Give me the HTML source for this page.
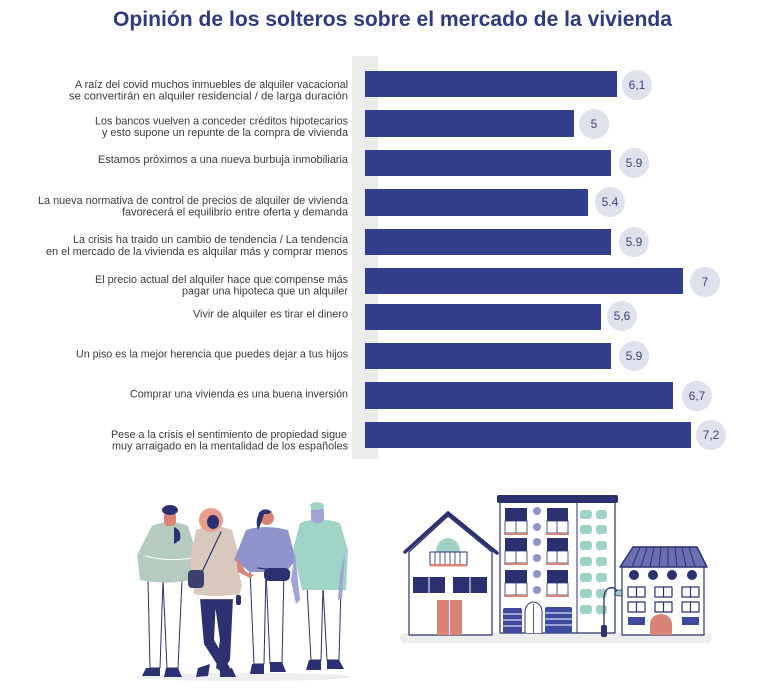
<!DOCTYPE html>
<html>
<head>
<meta charset="utf-8">
<style>
  html,body{margin:0;padding:0;background:#ffffff;}
  body{width:768px;height:697px;overflow:hidden;}
  svg{display:block;}
  .lbl{font-family:"Liberation Sans",sans-serif;font-size:11px;fill:#3a3a3a;}
  .val{font-family:"Liberation Sans",sans-serif;font-size:12px;fill:#3f4578;}
</style>
</head>
<body>
<svg width="768" height="697" viewBox="0 0 768 697" xmlns="http://www.w3.org/2000/svg">
  <rect x="0" y="0" width="768" height="697" fill="#ffffff"/>
  <!-- Title -->
  <text x="113" y="26" textLength="559" lengthAdjust="spacingAndGlyphs" font-family="Liberation Sans, sans-serif" font-weight="bold" font-size="21" fill="#2f3a80">Opinión de los solteros sobre el mercado de la vivienda</text>

  <!-- grey axis strip -->
  <rect x="352" y="56" width="26" height="403" fill="#ebebeb"/>

  <!-- bars -->
  <g fill="#333f8c">
    <rect x="365" y="71" width="252" height="26"/>
    <rect x="365" y="110" width="209" height="27"/>
    <rect x="365" y="150" width="246" height="26"/>
    <rect x="365" y="189" width="223" height="27"/>
    <rect x="365" y="229" width="246" height="26"/>
    <rect x="365" y="268" width="318" height="26"/>
    <rect x="365" y="304" width="236" height="26"/>
    <rect x="365" y="343" width="246" height="26"/>
    <rect x="365" y="382" width="308" height="27"/>
    <rect x="365" y="422" width="326" height="26"/>
  </g>

  <!-- value circles -->
  <g fill="#dfe1ec">
    <circle cx="637" cy="85" r="15"/>
    <circle cx="594" cy="124" r="15"/>
    <circle cx="634" cy="163" r="15"/>
    <circle cx="610" cy="202" r="15"/>
    <circle cx="634" cy="242" r="15"/>
    <circle cx="705" cy="282" r="15"/>
    <circle cx="622" cy="316" r="15"/>
    <circle cx="634" cy="356" r="15"/>
    <circle cx="697" cy="396" r="15"/>
    <circle cx="711" cy="435" r="15"/>
  </g>
  <g class="val" text-anchor="middle">
    <text x="637" y="89">6,1</text>
    <text x="594" y="128">5</text>
    <text x="634" y="167">5.9</text>
    <text x="610" y="206">5.4</text>
    <text x="634" y="246">5.9</text>
    <text x="705" y="286">7</text>
    <text x="622" y="320">5,6</text>
    <text x="634" y="360">5.9</text>
    <text x="697" y="400">6,7</text>
    <text x="711" y="439">7,2</text>
  </g>

  <!-- labels -->
  <g class="lbl">
    <text x="75" y="88" textLength="273" lengthAdjust="spacingAndGlyphs">A raíz del covid muchos inmuebles de alquiler vacacional</text>
    <text x="69" y="99.5" textLength="279" lengthAdjust="spacingAndGlyphs">se convertirán en alquiler residencial / de larga duración</text>
    <text x="95" y="124.5" textLength="253" lengthAdjust="spacingAndGlyphs">Los bancos vuelven a conceder créditos hipotecarios</text>
    <text x="102" y="136" textLength="246" lengthAdjust="spacingAndGlyphs">y esto supone un repunte de la compra de vivienda</text>
    <text x="98" y="163" textLength="250" lengthAdjust="spacingAndGlyphs">Estamos próximos a una nueva burbuja inmobiliaria</text>
    <text x="38" y="204" textLength="310" lengthAdjust="spacingAndGlyphs">La nueva normativa de control de precios de alquiler de vivienda</text>
    <text x="122" y="215.5" textLength="226" lengthAdjust="spacingAndGlyphs">favorecerá el equilibrio entre oferta y demanda</text>
    <text x="73" y="243" textLength="275" lengthAdjust="spacingAndGlyphs">La crisis ha traido un cambio de tendencia / La tendencia</text>
    <text x="46" y="255" textLength="302" lengthAdjust="spacingAndGlyphs">en el mercado de la vivienda es alquilar más y comprar menos</text>
    <text x="95" y="283" textLength="253" lengthAdjust="spacingAndGlyphs">El precio actual del alquiler hace que compense más</text>
    <text x="182" y="294.5" textLength="166" lengthAdjust="spacingAndGlyphs">pagar una hipoteca que un alquiler</text>
    <text x="193" y="317.5" textLength="155" lengthAdjust="spacingAndGlyphs">Vivir de alquiler es tirar el dinero</text>
    <text x="76" y="357.5" textLength="272" lengthAdjust="spacingAndGlyphs">Un piso es la mejor herencia que puedes dejar a tus hijos</text>
    <text x="130" y="397.5" textLength="218" lengthAdjust="spacingAndGlyphs">Comprar una vivienda es una buena inversión</text>
    <text x="111" y="438" textLength="236" lengthAdjust="spacingAndGlyphs">Pese a la crisis el sentimiento de propiedad sigue</text>
    <text x="112" y="449.5" textLength="236" lengthAdjust="spacingAndGlyphs">muy arraigado en la mentalidad de los españoles</text>
  </g>

  <!-- ================= PEOPLE ================= -->
  <g stroke-linejoin="round" stroke-linecap="round">
    <ellipse cx="243" cy="677" rx="108" ry="4" fill="#eeeeee"/>

    <!-- Figure 1: sage sweater man -->
    <path d="M148,580 L163,580 L160,668 L150,668 Z" fill="#ffffff" stroke="#2b3170" stroke-width="1"/>
    <path d="M163,580 L182,580 L178,668 L167,668 Z" fill="#ffffff" stroke="#2b3170" stroke-width="1"/>
    <path d="M146,668 L160,668 L160,676 L142,676 Z" fill="#2b3170"/>
    <path d="M166,668 L178,668 L182,677 L164,677 Z" fill="#2b3170"/>
    <path d="M152,526 Q170,518 188,526 L196,552 L192,580 Q165,585 140,580 L137,555 Z" fill="#b6cbbf"/>
    <path d="M146,556 Q165,562 192,558" stroke="#ffffff" stroke-width="1" fill="none"/>
    <rect x="164" y="512" width="12" height="14" rx="4" fill="#d98476"/>
    <ellipse cx="170" cy="510" rx="8" ry="5" fill="#2b3170"/>
    <path d="M174,527 Q182,530 180,540 L174,544 Z" fill="#2b3170"/>

    <!-- Figure 2: beige sweater woman -->
    <path d="M200,598 L216,598 L214,640 L230,668 L222,672 L204,644 Z" fill="#2b3170"/>
    <path d="M214,598 L233,598 L230,660 L222,672 L216,668 L220,640 Z" fill="#2b3170"/>
    <path d="M198,668 L210,664 L208,676 L196,677 Z" fill="#2b3170"/>
    <path d="M220,670 L232,668 L236,677 L220,677 Z" fill="#2b3170"/>
    <rect x="198" y="590" width="36" height="9" fill="#ffffff" stroke="#cfcfcf" stroke-width="0.5"/>
    <path d="M196,530 Q214,523 232,530 L240,560 L238,594 Q216,598 194,594 L190,560 Z" fill="#d9c8be"/>
    <path d="M232,545 L242,585 L238,600 L234,592 Z" fill="#d9c8be"/>
    <circle cx="211" cy="520" r="12" fill="#e79d8c"/>
    <ellipse cx="213" cy="522" rx="6" ry="7" fill="#2b3170"/>
    <line x1="221" y1="532" x2="202" y2="572" stroke="#2b3170" stroke-width="1.2"/>
    <rect x="188" y="570" width="16" height="18" rx="4" fill="#3a3f6e"/>
    <rect x="236" y="595" width="5" height="10" rx="2" fill="#2b3170"/>

    <!-- Figure 3: lavender top woman -->
    <path d="M250,570 L266,570 L264,664 L254,664 Z" fill="#ffffff" stroke="#2b3170" stroke-width="1"/>
    <path d="M266,570 L284,570 L282,664 L270,664 Z" fill="#ffffff" stroke="#2b3170" stroke-width="1"/>
    <path d="M252,664 L264,664 L264,674 L250,674 Z" fill="#2b3170"/>
    <path d="M270,662 L282,662 L286,672 L270,672 Z" fill="#2b3170"/>
    <path d="M246,530 Q265,524 288,530 L296,560 L286,572 L250,572 L234,560 Z" fill="#8f94cc"/>
    <path d="M236,556 L246,572 L254,575 L250,578 L238,572 Z" fill="#d98476"/>
    <rect x="264" y="568" width="26" height="13" rx="5" fill="#2b3170"/>
    <line x1="258" y1="568" x2="290" y2="572" stroke="#2b3170" stroke-width="1.2"/>
    <circle cx="267" cy="518" r="7" fill="#d98476"/>
    <path d="M258,514 Q264,506 272,512 L268,514 Z" fill="#2b3170"/>
    <path d="M262,510 Q254,518 258,530 Q262,522 264,514 Z" fill="#2b3170"/>

    <!-- Figure 4: mint sweater man -->
    <path d="M307,586 L323,586 L321,660 L311,660 Z" fill="#ffffff" stroke="#2b3170" stroke-width="1"/>
    <path d="M323,586 L341,586 L339,660 L327,660 Z" fill="#ffffff" stroke="#2b3170" stroke-width="1"/>
    <path d="M309,660 L321,660 L321,670 L306,670 Z" fill="#2b3170"/>
    <path d="M327,660 L339,660 L344,669 L327,669 Z" fill="#2b3170"/>
    <path d="M300,523 Q318,516 340,523 L348,550 L346,590 L302,590 L293,550 Z" fill="#a0d4c7"/>
    <path d="M295,552 L300,600 L296,604 L291,580 Z" fill="#9fa3d8"/>
    <path d="M345,552 L342,598 L338,600 L340,575 Z" fill="#9fa3d8"/>
    <rect x="311" y="506" width="13" height="17" rx="5" fill="#9fa3d8"/>
    <ellipse cx="317" cy="506" rx="7" ry="4" fill="#a0d4c7"/>
  </g>

  <!-- ================= BUILDINGS ================= -->
  <g stroke-linejoin="round">
    <rect x="400" y="633" width="312" height="10" rx="5" fill="#ededed"/>

    <!-- Left house -->
    <path d="M409,552 L448,516 L492,552 L492,635 L409,635 Z" fill="#ffffff" stroke="#2b3170" stroke-width="1.2"/>
    <path d="M405,552 L448,513 L497,553" fill="none" stroke="#2b3170" stroke-width="3.5" stroke-linecap="round"/>
    <path d="M436,552 A12,14 0 0 1 460,552 Z" fill="#9fd3c7"/>
    <rect x="430" y="552" width="37" height="13" fill="#ffffff" stroke="#2b3170" stroke-width="1"/>
    <g stroke="#2b3170" stroke-width="0.8">
      <line x1="435" y1="552" x2="435" y2="565"/><line x1="440" y1="552" x2="440" y2="565"/>
      <line x1="445" y1="552" x2="445" y2="565"/><line x1="450" y1="552" x2="450" y2="565"/>
      <line x1="455" y1="552" x2="455" y2="565"/><line x1="460" y1="552" x2="460" y2="565"/>
    </g>
    <rect x="430" y="564" width="37" height="2.5" fill="#d98476"/>
    <rect x="413" y="577" width="32" height="16" fill="#2b3170"/>
    <rect x="453" y="577" width="34" height="16" fill="#2b3170"/>
    <line x1="429" y1="577" x2="429" y2="593" stroke="#ffffff" stroke-width="1"/>
    <line x1="470" y1="577" x2="470" y2="593" stroke="#ffffff" stroke-width="1"/>
    <rect x="437" y="600" width="25" height="35" fill="#d98476"/>
    <line x1="449.5" y1="600" x2="449.5" y2="635" stroke="#ffffff" stroke-width="1"/>

    <!-- Tall building -->
    <rect x="500" y="502" width="115" height="131" fill="#ffffff" stroke="#2b3170" stroke-width="1.2"/>
    <rect x="497" y="495" width="121" height="8" rx="2" fill="#2b3170"/>
    <line x1="577" y1="503" x2="577" y2="633" stroke="#2b3170" stroke-width="1"/>
    <g fill="#2b3170">
      <rect x="505" y="508" width="22" height="25"/><rect x="547" y="508" width="21" height="25"/>
      <rect x="505" y="538" width="22" height="25"/><rect x="547" y="538" width="21" height="25"/>
      <rect x="505" y="570" width="22" height="25"/><rect x="547" y="570" width="21" height="25"/>
    </g>
    <g fill="#ffffff">
      <rect x="505" y="521" width="22" height="12"/><rect x="547" y="521" width="21" height="12"/>
      <rect x="505" y="551" width="22" height="12"/><rect x="547" y="551" width="21" height="12"/>
      <rect x="505" y="583" width="22" height="12"/><rect x="547" y="583" width="21" height="12"/>
    </g>
    <g stroke="#2b3170" stroke-width="0.8" fill="none">
      <rect x="505" y="521" width="22" height="12"/><rect x="547" y="521" width="21" height="12"/>
      <rect x="505" y="551" width="22" height="12"/><rect x="547" y="551" width="21" height="12"/>
      <rect x="505" y="583" width="22" height="12"/><rect x="547" y="583" width="21" height="12"/>
      <line x1="516" y1="508" x2="516" y2="533"/><line x1="557" y1="508" x2="557" y2="533"/>
      <line x1="516" y1="538" x2="516" y2="563"/><line x1="557" y1="538" x2="557" y2="563"/>
      <line x1="516" y1="570" x2="516" y2="595"/><line x1="557" y1="570" x2="557" y2="595"/>
    </g>
    <g fill="#d98476">
      <rect x="504" y="533" width="24" height="2"/><rect x="546" y="533" width="23" height="2"/>
      <rect x="504" y="563" width="24" height="2"/><rect x="546" y="563" width="23" height="2"/>
      <rect x="504" y="595" width="24" height="2"/><rect x="546" y="595" width="23" height="2"/>
    </g>
    <g fill="#9094cc">
      <ellipse cx="537" cy="511" rx="4" ry="4"/><ellipse cx="537" cy="527" rx="4" ry="4"/>
      <ellipse cx="537" cy="542" rx="4" ry="4"/><ellipse cx="537" cy="558" rx="4" ry="4"/>
      <ellipse cx="537" cy="574" rx="4" ry="4"/><ellipse cx="537" cy="590" rx="4" ry="4"/>
    </g>
    <g fill="#9fd3c7">
      <rect x="580" y="510" width="12" height="9" rx="3"/><rect x="596" y="510" width="11" height="9" rx="3"/>
      <rect x="580" y="525" width="12" height="9" rx="3"/><rect x="596" y="525" width="11" height="9" rx="3"/>
      <rect x="580" y="541" width="12" height="9" rx="3"/><rect x="596" y="541" width="11" height="9" rx="3"/>
      <rect x="580" y="557" width="12" height="9" rx="3"/><rect x="596" y="557" width="11" height="9" rx="3"/>
      <rect x="580" y="573" width="12" height="9" rx="3"/><rect x="596" y="573" width="11" height="9" rx="3"/>
      <rect x="580" y="589" width="12" height="9" rx="3"/><rect x="596" y="589" width="11" height="9" rx="3"/>
      <rect x="580" y="605" width="12" height="9" rx="3"/><rect x="596" y="605" width="11" height="9" rx="3"/>
    </g>
    <rect x="503" y="608" width="19" height="25" rx="2" fill="#3e4aa0"/>
    <rect x="545" y="607" width="27" height="26" rx="2" fill="#3e4aa0"/>
    <g stroke="#ffffff" stroke-width="1">
      <line x1="503" y1="614" x2="522" y2="614"/><line x1="503" y1="620" x2="522" y2="620"/><line x1="503" y1="626" x2="522" y2="626"/>
      <line x1="545" y1="613" x2="572" y2="613"/><line x1="545" y1="619" x2="572" y2="619"/><line x1="545" y1="625" x2="572" y2="625"/>
    </g>
    <path d="M525,633 L525,612 A8.5,10 0 0 1 542,612 L542,633" fill="#ffffff" stroke="#2b3170" stroke-width="1"/>
    <line x1="533.5" y1="604" x2="533.5" y2="633" stroke="#2b3170" stroke-width="0.8"/>

    <!-- Lamp post -->
    <path d="M604,636 L604,596 Q606,586 614,588 L619,592" fill="none" stroke="#2b3170" stroke-width="1.3"/>
    <ellipse cx="620" cy="593" rx="5" ry="3" fill="#9fd3c7" stroke="#2b3170" stroke-width="0.8"/>
    <rect x="601" y="625" width="6" height="12" rx="2" fill="#2b3170"/>

    <!-- Right house -->
    <rect x="622" y="566" width="82" height="69" fill="#ffffff" stroke="#2b3170" stroke-width="1.2"/>
    <path d="M633,547 L697,547 L707,567 L620,567 Z" fill="#6c70b2" stroke="#2b3170" stroke-width="1.5"/>
    <g stroke="#2b3170" stroke-width="1">
      <line x1="640" y1="547" x2="632" y2="567"/><line x1="647" y1="547" x2="641" y2="567"/>
      <line x1="654" y1="547" x2="650" y2="567"/><line x1="661" y1="547" x2="659" y2="567"/>
      <line x1="668" y1="547" x2="668" y2="567"/><line x1="675" y1="547" x2="677" y2="567"/>
      <line x1="682" y1="547" x2="686" y2="567"/><line x1="689" y1="547" x2="695" y2="567"/>
    </g>
    <g fill="#2b3170">
      <circle cx="634" cy="575" r="5"/><circle cx="653" cy="575" r="5"/>
      <circle cx="672" cy="575" r="5"/><circle cx="692" cy="575" r="5"/>
    </g>
    <g fill="#ffffff" stroke="#2b3170" stroke-width="1.2">
      <rect x="628" y="587" width="17" height="10"/><rect x="655" y="587" width="17" height="10"/><rect x="682" y="587" width="17" height="10"/>
      <rect x="628" y="602" width="17" height="10"/><rect x="655" y="602" width="17" height="10"/><rect x="682" y="602" width="17" height="10"/>
      <line x1="636.5" y1="587" x2="636.5" y2="597"/><line x1="663.5" y1="587" x2="663.5" y2="597"/><line x1="690.5" y1="587" x2="690.5" y2="597"/>
      <line x1="636.5" y1="602" x2="636.5" y2="612"/><line x1="663.5" y1="602" x2="663.5" y2="612"/><line x1="690.5" y1="602" x2="690.5" y2="612"/>
    </g>
    <rect x="628" y="617" width="17" height="8" fill="#3e4aa0"/>
    <rect x="682" y="617" width="17" height="8" fill="#3e4aa0"/>
    <path d="M650,635 L650,624 A11,10 0 0 1 672,624 L672,635 Z" fill="#d98476"/>
  </g>
</svg>
</body>
</html>
